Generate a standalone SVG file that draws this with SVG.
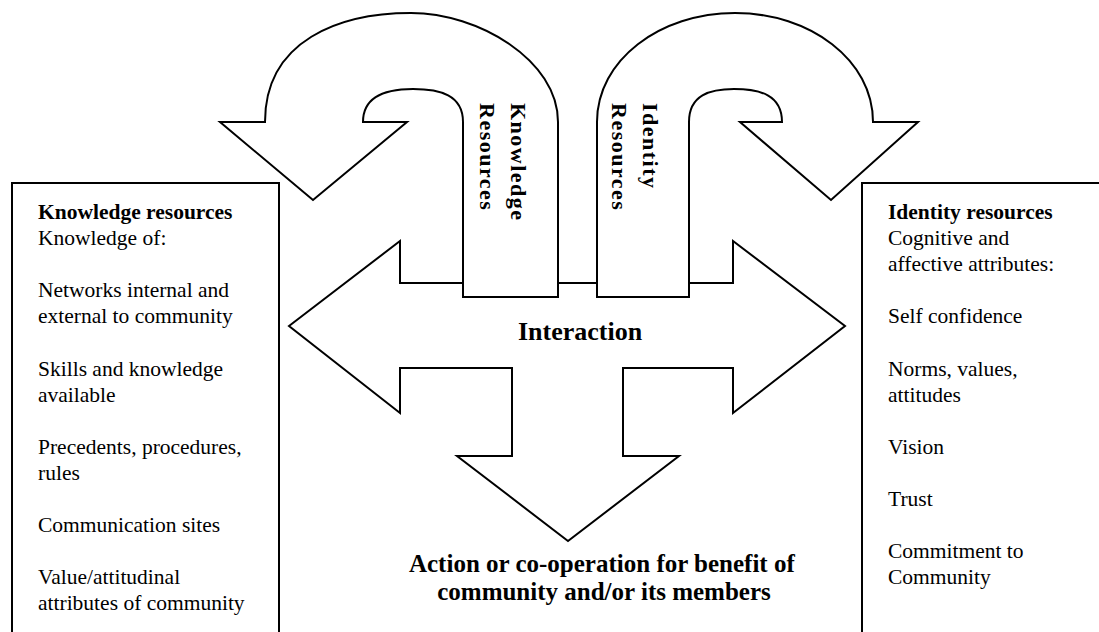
<svg xmlns="http://www.w3.org/2000/svg" width="1099" height="632" viewBox="0 0 1099 632">
  <style>
    .shape { fill: #ffffff; stroke: #000000; stroke-width: 2; stroke-linejoin: miter; }
    .box { fill: #ffffff; stroke: #000000; stroke-width: 2; }
    .body { font-family: "Liberation Serif", "Times New Roman", serif; font-size: 21.5px; fill: #000000; }
    .head { font-weight: bold; }
    .stem { font-family: "Liberation Serif", "Times New Roman", serif; font-size: 22px; font-weight: bold; letter-spacing: 1.5px; fill: #000000; }
    .centre { font-family: "Liberation Serif", "Times New Roman", serif; font-weight: bold; fill: #000000; text-anchor: middle; }
  </style>
  <rect width="1099" height="632" fill="#ffffff"/>

  <!-- Side panels -->
  <g id="knowledge-panel">
    <path class="box" d="M12,640 L12,183 L279,183 L279,640"/>
    <text class="body" x="38">
      <tspan class="head" x="38" y="219">Knowledge resources</tspan>
      <tspan x="38" y="245">Knowledge of:</tspan>
      <tspan x="38" y="297">Networks internal and</tspan>
      <tspan x="38" y="323">external to community</tspan>
      <tspan x="38" y="376">Skills and knowledge</tspan>
      <tspan x="38" y="402">available</tspan>
      <tspan x="38" y="454">Precedents, procedures,</tspan>
      <tspan x="38" y="480">rules</tspan>
      <tspan x="38" y="532">Communication sites</tspan>
      <tspan x="38" y="584">Value/attitudinal</tspan>
      <tspan x="38" y="610">attributes of community</tspan>
    </text>
  </g>

  <g id="identity-panel">
    <path class="box" d="M862,640 L862,183 L1105,183"/>
    <text class="body" x="888">
      <tspan class="head" x="888" y="219">Identity resources</tspan>
      <tspan x="888" y="245">Cognitive and</tspan>
      <tspan x="888" y="271">affective attributes:</tspan>
      <tspan x="888" y="323">Self confidence</tspan>
      <tspan x="888" y="376">Norms, values,</tspan>
      <tspan x="888" y="402">attitudes</tspan>
      <tspan x="888" y="454">Vision</tspan>
      <tspan x="888" y="506">Trust</tspan>
      <tspan x="888" y="558">Commitment to</tspan>
      <tspan x="888" y="584">Community</tspan>
    </text>
  </g>

  <!-- Block arrows -->
  <g id="connectors">
    <!-- two-way interaction arrow joined with the downward action arrow -->
    <path id="interaction-arrow" class="shape" d="M289,326 L400,241 L400,283 L733,283 L733,241 L845,326 L733,413 L733,368 L623,368 L623,456 L679,456 L568,541 L457,456 L512,456 L512,368 L400,368 L400,413 Z"/>
    <!-- curved arrow rising from the knowledge stem -->
    <path id="knowledge-arrow" class="shape" d="M463,297 L463,122 C463,95 440,89 413,89 C388,89 363,95 363,122 L407,122 L313,200 L220,122 L265,122 C265,40 340,13 411,13 C478,13 558,60 558,122 L558,297 Z"/>
    <!-- curved arrow rising from the identity stem -->
    <path id="identity-arrow" class="shape" d="M689,297 L689,122 C689,95 710,89 734,89 C760,89 782,95 782,122 L740,122 L831,200 L918,122 L873,122 C873,60 810,13 735,13 C660,13 597,60 597,122 L597,297 Z"/>
  </g>

  <g id="knowledge-label">
    <text class="stem" transform="translate(511,103) rotate(90)">
      <tspan x="0" y="0">Knowledge</tspan>
      <tspan x="0" y="31">Resources</tspan>
    </text>
  </g>

  <g id="identity-label">
    <text class="stem" transform="translate(643,103) rotate(90)">
      <tspan x="0" y="0">Identity</tspan>
      <tspan x="0" y="31">Resources</tspan>
    </text>
  </g>

  <g id="interaction-label">
    <text class="centre" x="580" y="340" font-size="26">Interaction</text>
  </g>

  <g id="action-label">
    <text class="centre" font-size="25">
      <tspan x="605" y="572">Action or co-operation for benefit of</tspan>
      <tspan x="604" y="600">community and/or its members</tspan>
    </text>
  </g>
</svg>
